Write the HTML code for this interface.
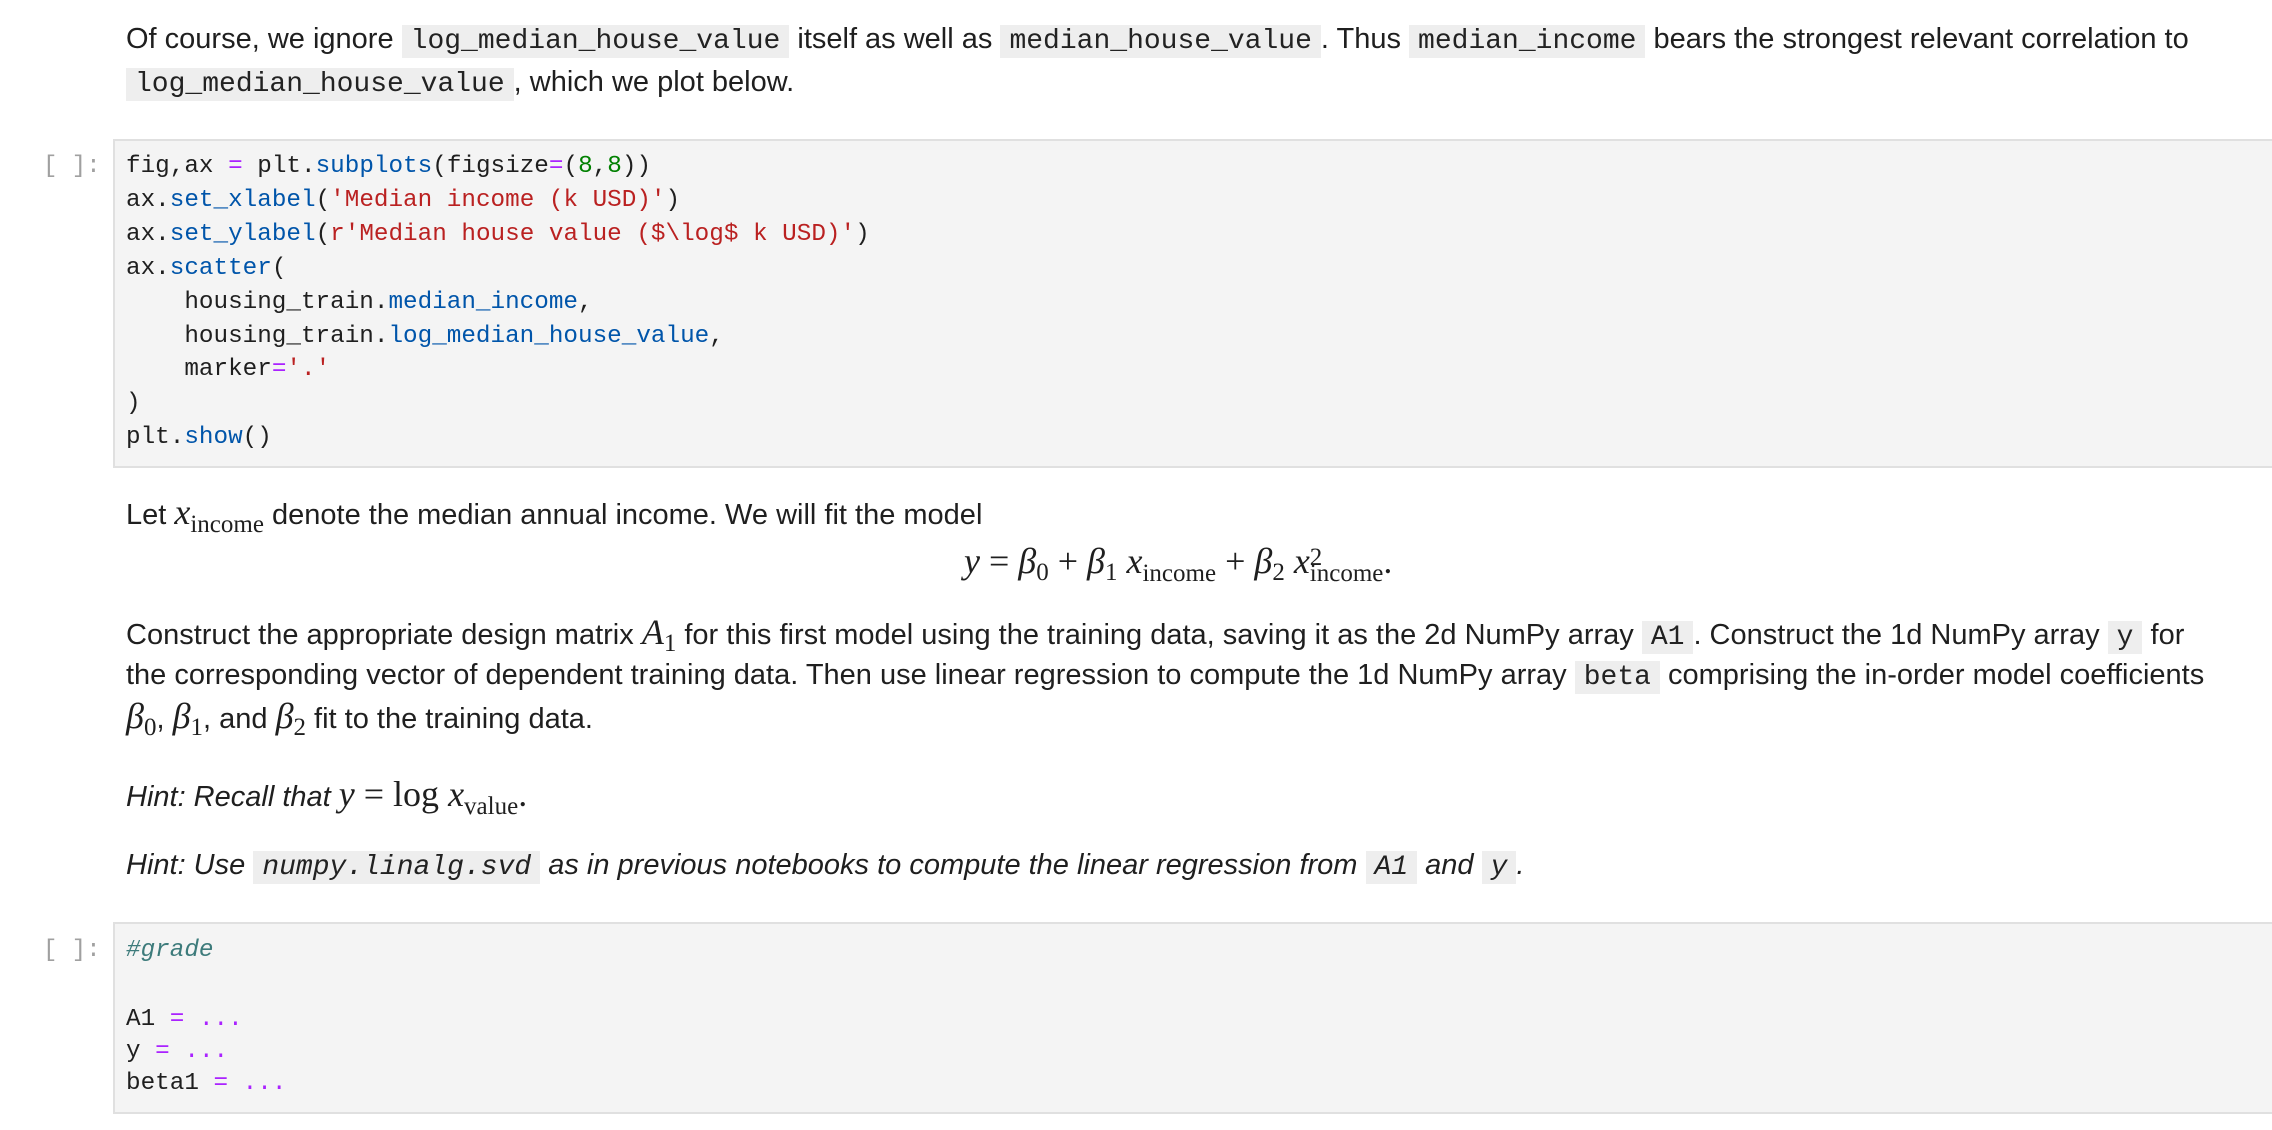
<!DOCTYPE html>
<html><head><meta charset="utf-8"><style>
html,body{margin:0;padding:0;background:#fff;width:2272px;height:1130px;overflow:hidden;position:relative}
.l{position:absolute;left:126px;white-space:nowrap;font-family:"Liberation Sans",sans-serif;font-size:29px;color:#1f1f1f;line-height:40px;height:40px}
.c{font-family:"Liberation Mono",monospace;font-size:28px;background:#eee;padding:1px 9px;color:#222}
.box{position:absolute;left:113px;width:2170px;background:#f4f4f4;border:2px solid #e0e0e0;box-sizing:border-box}
.code{position:absolute;left:126px;white-space:pre;font-family:"Liberation Mono",monospace;font-size:24.3px;line-height:33.9px;color:#1f1f1f}
.pr{position:absolute;left:43px;font-family:"Liberation Mono",monospace;font-size:24px;color:#a0a0a0;line-height:34px}
.b{color:#0055aa}.s{color:#ba2121}.o{color:#aa22ff}.n{color:#008000}.cm{color:#3d7b7b;font-style:italic}
.m{font-family:"Liberation Serif",serif;font-style:italic;font-size:36px}
.r{font-family:"Liberation Serif",serif;font-style:normal}
sub,sup{font-family:"Liberation Serif",serif;font-style:normal;font-size:25px}
i.h{font-style:italic}
</style></head><body>
<div class="l" style="top:19px">Of course, we ignore <span class="c">log_median_house_value</span> itself as well as <span class="c">median_house_value</span>. Thus <span class="c">median_income</span> bears the strongest relevant correlation to</div>
<div class="l" style="top:62px"><span class="c">log_median_house_value</span>, which we plot below.</div>

<div class="box" style="top:139px;height:329px"></div>
<div class="pr" style="top:150px">[ ]:</div>
<div class="code" style="top:150px">fig,ax <span class="o">=</span> plt.<span class="b">subplots</span>(figsize<span class="o">=</span>(<span class="n">8</span>,<span class="n">8</span>))
ax.<span class="b">set_xlabel</span>(<span class="s">'Median income (k USD)'</span>)
ax.<span class="b">set_ylabel</span>(<span class="s">r'Median house value ($\log$ k USD)'</span>)
ax.<span class="b">scatter</span>(
    housing_train.<span class="b">median_income</span>,
    housing_train.<span class="b">log_median_house_value</span>,
    marker<span class="o">=</span><span class="s">'.'</span>
)
plt.<span class="b">show</span>()</div>

<div class="l" style="top:492px">Let <span class="m">x<sub>income</sub></span> denote the median annual income. We will fit the model</div>
<div class="l" style="top:541px;left:964px"><span class="m">y</span><span class="m r"> = </span><span class="m">β</span><sub>0</sub><span class="m r"> + </span><span class="m">β</span><sub>1</sub><span class="m"> x<sub>income</sub></span><span class="m r"> + </span><span class="m">β</span><sub>2</sub><span class="m"> x</span><span style="display:inline-block;line-height:16px;vertical-align:-8px"><sup style="display:block">2</sup><sub style="display:block">income</sub></span><span class="m r">.</span></div>

<div class="l" style="top:612px">Construct the appropriate design matrix <span class="m">A</span><sub>1</sub> for this first model using the training data, saving it as the 2d NumPy array <span class="c">A1</span>. Construct the 1d NumPy array <span class="c">y</span> for</div>
<div class="l" style="top:655px">the corresponding vector of dependent training data. Then use linear regression to compute the 1d NumPy array <span class="c">beta</span> comprising the in-order model coefficients</div>
<div class="l" style="top:696px"><span class="m">β</span><sub>0</sub>, <span class="m">β</span><sub>1</sub>, and <span class="m">β</span><sub>2</sub> fit to the training data.</div>

<div class="l" style="top:774px"><i class="h">Hint: Recall that </i><span class="m">y</span><span class="m r"> = log </span><span class="m">x<sub>value</sub></span><span class="m r">.</span></div>
<div class="l" style="top:845px"><i class="h">Hint: Use <span class="c" style="font-style:italic">numpy.linalg.svd</span> as in previous notebooks to compute the linear regression from <span class="c" style="font-style:italic">A1</span> and <span class="c" style="font-style:italic">y</span>.</i></div>

<div class="box" style="top:922px;height:192px"></div>
<div class="pr" style="top:934px">[ ]:</div>
<div class="code" style="top:934px"><span class="cm">#grade</span></div>
<div class="code" style="top:1004px;line-height:32px">A1 <span class="o">=</span> <span class="o">...</span>
y <span class="o">=</span> <span class="o">...</span>
beta1 <span class="o">=</span> <span class="o">...</span></div>
</body></html>
